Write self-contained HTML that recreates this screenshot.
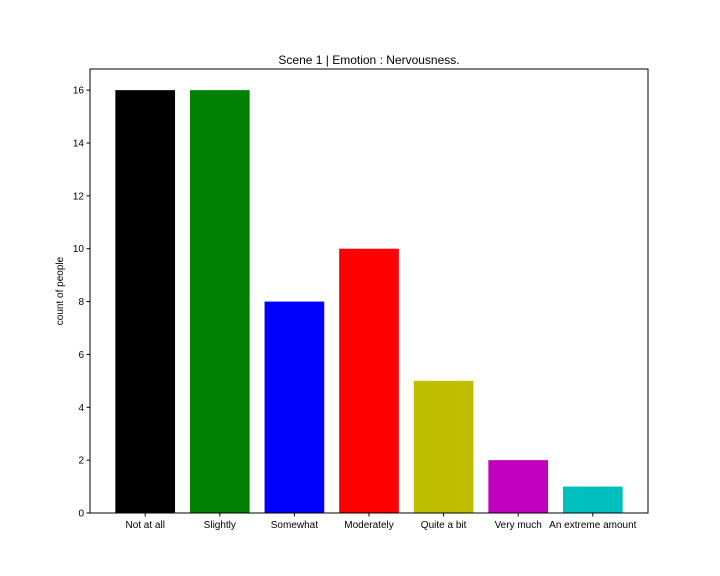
<!DOCTYPE html>
<html><head><meta charset="utf-8"><style>
body{margin:0;background:#fff;}
svg{display:block;font-family:"Liberation Sans","DejaVu Sans",sans-serif;}
</style></head><body>
<svg id="chart" width="720" height="576">
<rect x="0" y="0" width="720" height="576" fill="#fff"/>
<text x="369" y="64" text-anchor="middle" font-size="12">Scene 1 | Emotion : Nervousness.</text>
<text transform="translate(63,291) rotate(-90)" text-anchor="middle" font-size="10">count of people</text>
<g id="bars"></g>
<g id="axes"></g>
<rect x="90" y="69" width="558" height="444" fill="none" stroke="#000" stroke-width="1"/>
</svg>
<script>
const categories=["Not at all","Slightly","Somewhat","Moderately","Quite a bit","Very much","An extreme amount"];
const values=[16,16,8,10,5,2,1];
const colors=["#000000","#008000","#0000ff","#ff0000","#bfbf00","#bf00bf","#00bfbf"];
const yTicks=[0,2,4,6,8,10,12,14,16];
const L=90,R=648,T=69,B=513;
const xMin=-0.74,xMax=6.74,yMax=16.8;
const xs=v=>L+(v-xMin)/(xMax-xMin)*(R-L);
const ys=v=>B-v/yMax*(B-T);
const NS="http://www.w3.org/2000/svg";
const bars=document.getElementById('bars'),axes=document.getElementById('axes');
function mk(t,a,p){const e=document.createElementNS(NS,t);for(const k in a)e.setAttribute(k,a[k]);p.appendChild(e);return e;}
values.forEach((v,i)=>{
 const r=mk('rect',{x:xs(i-0.4),y:ys(v),width:xs(i+0.4)-xs(i-0.4),height:ys(0)-ys(v),fill:colors[i]},bars);
 
 
 mk('line',{x1:xs(i),x2:xs(i),y1:B,y2:B+3.5,stroke:'#000'},axes);
 const t=mk('text',{x:xs(i),y:B+15,'text-anchor':'middle','font-size':10},axes);
 t.textContent=categories[i];
 
 
});
yTicks.forEach(v=>{
 mk('line',{x1:L-3.5,x2:L,y1:ys(v),y2:ys(v),stroke:'#000'},axes);
 const t=mk('text',{x:L-6,y:ys(v)+3.5,'text-anchor':'end','font-size':10},axes);
 t.textContent=v;
 
 
});
</script>
</body></html>
